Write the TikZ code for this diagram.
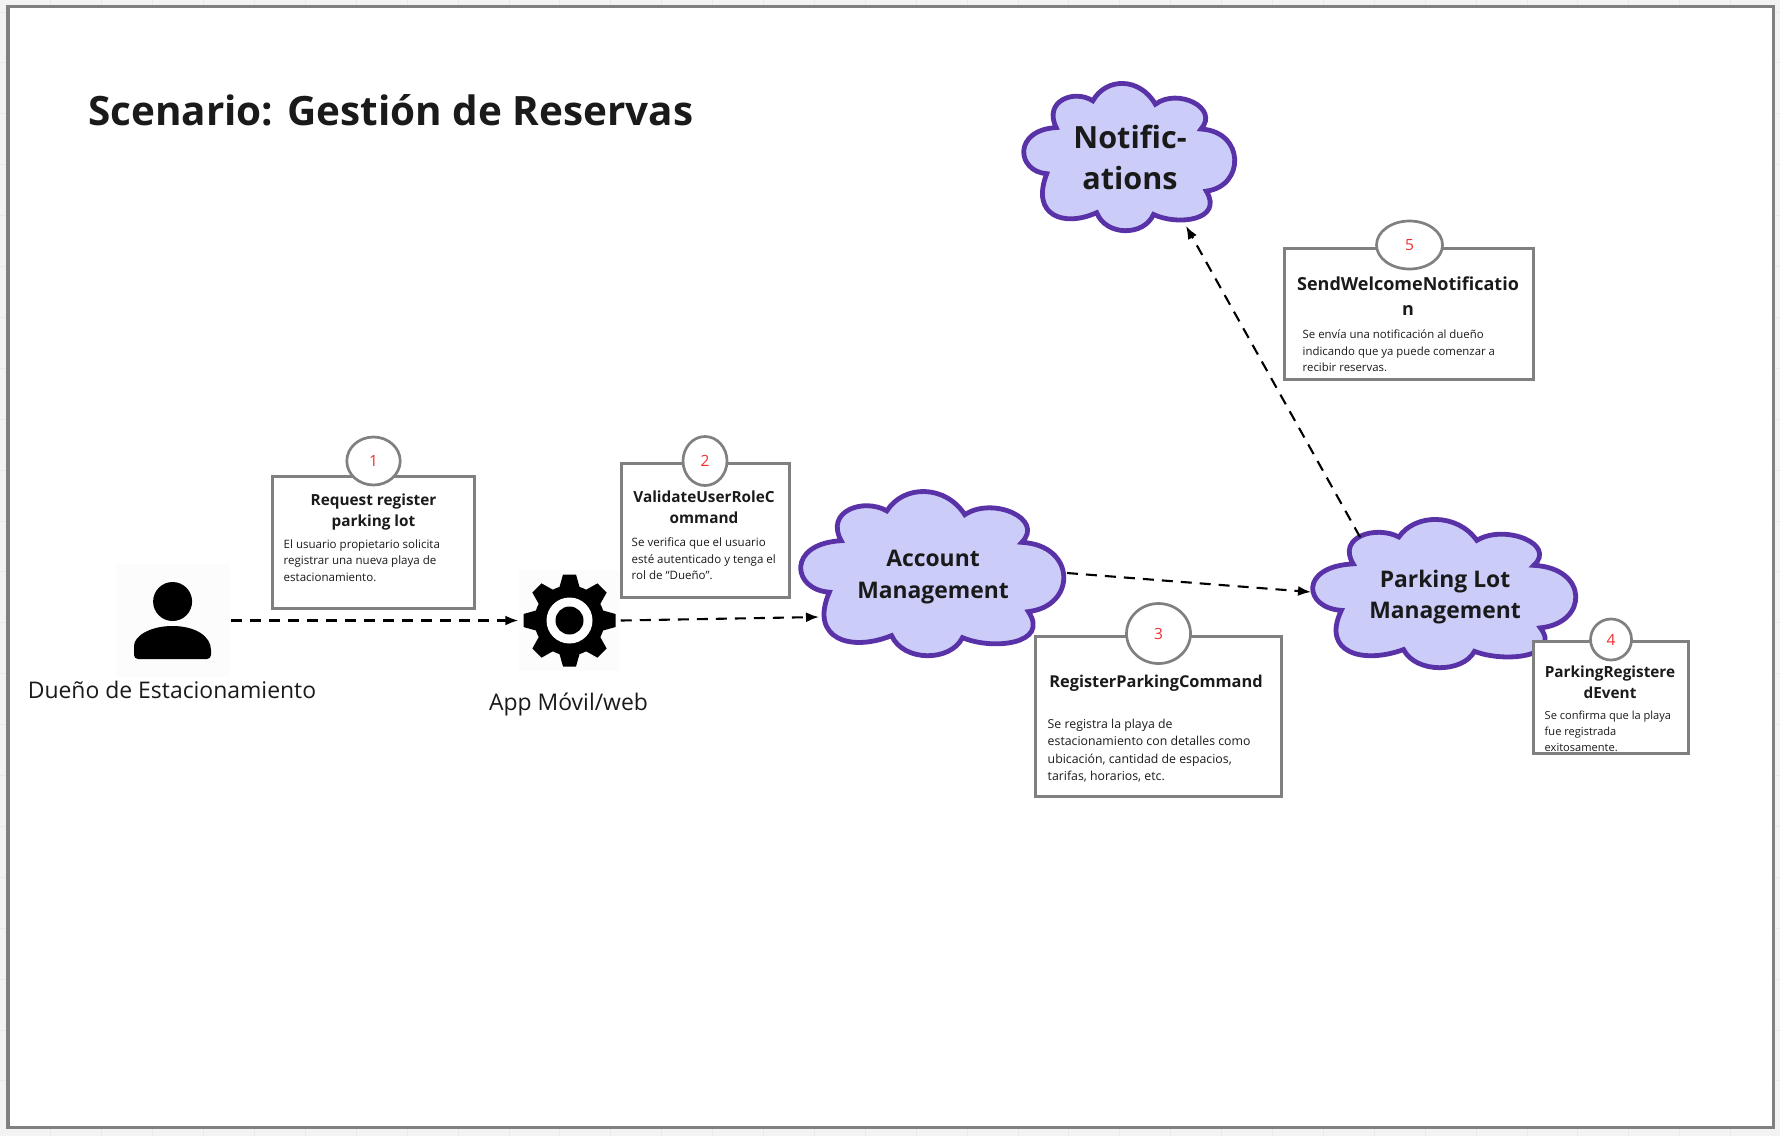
\documentclass[tikz,border=0pt]{standalone}
\usepackage{fontspec}
\setmainfont{Open Sans}
\usetikzlibrary{arrows.meta}

\definecolor{framegray}{HTML}{808080}
\definecolor{sheetgray}{HTML}{F3F3F3}
\definecolor{gridgray}{HTML}{E9E9E9}
\definecolor{cloudfill}{HTML}{CCCCF9}
\definecolor{cloudline}{HTML}{5A32A8}
\definecolor{inkblack}{HTML}{1A1A1A}
\definecolor{stepred}{HTML}{F03030}

\tikzset{
	cardbox/.style = {draw = framegray, fill = white, line width = 0.027cm, inner sep = 0},
	stepring/.style = {draw = framegray, fill = white, line width = 0.027cm},
	stepnum/.style = {inner sep = 0, text = stepred, font = \fontsize{4.4}{5}\selectfont},
	cardhead/.style = {align = center, inner sep = 0, text = inkblack, font = \bfseries\fontsize{4.36}{6.0}\selectfont},
	cardtext/.style = {align = left, anchor = west, inner sep = 0, text = inkblack, font = \fontsize{3.28}{4.7}\selectfont},
	cloudtext/.style = {align = center, inner sep = 0, text = inkblack, font = \bfseries\fontsize{6.5}{9}\selectfont},
	iconback/.style = {fill = black!1, inner sep = 0},
	actorname/.style = {inner sep = 0, text = inkblack, font = \fontsize{6.52}{8}\selectfont},
}

% Cloud outline: left, top, width, height of its box
\newcommand{\cloudbody}[4]{
	\draw [draw = cloudline, fill = cloudfill, line width = 0.048cm, shift = {(#1, #2)}, x = #3 * 0.01cm, y = #4 * -0.01cm]
		(.327, .121) .. controls (.39, -.04) and (.55, -.04) .. (.624, .144)
		.. controls (.73, .03) and (.93, .17) .. (.841, .312)
		.. controls (1.05, .33) and (1.05, .70) .. (.866, .733)
		.. controls (.95, .93) and (.73, .97) .. (.615, .891)
		.. controls (.57, 1.04) and (.39, 1.04) .. (.345, .879)
		.. controls (.19, .98) and (.03, .90) .. (.108, .615)
		.. controls (-.035, .60) and (-.055, .32) .. (.153, .302)
		.. controls (.09, .12) and (.24, .04) .. cycle;
}

\begin{document}
\begin{tikzpicture}[x = 0.01cm, y = -0.01cm]

	\useasboundingbox (0, 0) rectangle (1780, 1136);

	% Sheet behind the frame

	\fill [sheetgray] (0, 0) rectangle (1780, 1136);
	\begin{scope}[gridgray, line width = 0.01cm]
		\foreach \k in {1, ..., 34}
			\draw (\k * 50.9, 0) -- (\k * 50.9, 1136);
		\foreach \k in {0, ..., 21}
			\draw (0, 12 + \k * 50.9) -- (1780, 12 + \k * 50.9);
	\end{scope}

	\draw [draw = framegray, fill = white, line width = 0.03cm] (8, 6) rectangle (1773, 1127);

	\node (title) [anchor = west, inner sep = 0, text = inkblack, font = \bfseries\fontsize{11.5}{14}\selectfont] at (87.5, 110) {Scenario: Gestión de Reservas};

	% Owner and app icons

	\node (owner) [iconback, minimum width = 1.14cm, minimum height = 1.13cm] at (173, 620.5) {};
	\node (app) [iconback, minimum width = 1.01cm, minimum height = 1.01cm] at (569.5, 620.5) {};

	\fill (172.6, 601.5) circle (19.5);
	\fill [rounded corners = 0.04cm] (134, 659) -- (134, 650) [sharp corners] .. controls (134, 636) and (150, 626) .. (172.5, 626)
		.. controls (195, 626) and (211, 636) .. (211, 650) [rounded corners = 0.04cm] -- (211, 659) -- cycle;

	\begin{scope}[shift = {(app.center)}]
		\foreach \a in {0, 45, ..., 315}
			\fill [rotate = \a, line join = round] (30, -11) -- (46, -6.5) -- (46, 6.5) -- (30, 11) -- cycle;
		\fill circle (35);
		\fill [white] circle (23);
		\fill circle (14);
	\end{scope}

	\node (ownername) [actorname] at (172, 690) {Dueño de Estacionamiento};
	\node (appname) [actorname] at (568.5, 704) {App Móvil/web};

	% Clouds

	\cloudbody{1024}{83}{210.5}{147.5}
	\cloudbody{801}{491}{262.5}{164.5}
	\cloudbody{1313}{519}{262.5}{148.5}

	\node (notifications) [cloudtext, font = \bfseries\fontsize{8.7}{11.8}\selectfont] at (1130, 157.5) {Notific-\\ations};
	\node (account) [cloudtext] at (933, 577) {Account\\Management};
	\node (parking) [cloudtext] at (1445, 597) {Parking Lot\\Management};

	\coordinate (notificationsIn) at (1186, 226);
	\coordinate (accountIn) at (819, 617);
	\coordinate (accountOut) at (1067, 573);
	\coordinate (parkingIn) at (1311, 592);
	\coordinate (parkingOut) at (1360, 537);

	% Dashed flow between actors and clouds

	\begin{scope}[> = {Latex[length = 1.3mm, width = 1mm]}, ->, line width = 0.021cm, dash pattern = on 0.11cm off 0.08cm]

		\draw (owner.east) -- (app.west);
		\draw (app.east) -- (accountIn);
		\draw (accountOut) -- (parkingIn);
		\draw (parkingOut) -- (notificationsIn);

	\end{scope}

	% Cards with step numbers

	\node (card1) [cardbox, minimum width = 2.015cm, minimum height = 1.315cm] at (373.5, 542.5) {};
	\draw [stepring] (373.5, 461) ellipse (26.7 and 24);
	\node (num1) [stepnum] at (373.5, 461) {1};
	\node (head1) [cardhead] at (373.5, 512) {Request register\\parking lot};
	\node (text1) [cardtext] at (283, 560.5) {El usuario propietario solicita\\registrar una nueva playa de\\estacionamiento.};

	\node (card2) [cardbox, minimum width = 1.675cm, minimum height = 1.335cm] at (705.5, 530.5) {};
	\draw [stepring] (705, 461) ellipse (22 and 24.5);
	\node (num2) [stepnum] at (705, 461) {2};
	\node (head2) [cardhead] at (704, 507) {ValidateUserRoleC\\ommand};
	\node (text2) [cardtext] at (631, 559) {Se verifica que el usuario\\esté autenticado y tenga el\\rol de “Dueño”.};

	\node (card3) [cardbox, minimum width = 2.455cm, minimum height = 1.595cm] at (1158.5, 716.5) {};
	\draw [stepring] (1158.5, 633.5) ellipse (32 and 30);
	\node (num3) [stepnum] at (1158.5, 633.5) {3};
	\node (head3) [cardhead, font = \bfseries\fontsize{4.65}{6}\selectfont] at (1156, 683.5) {RegisterParkingCommand};
	\node (text3) [cardtext, font = \fontsize{3.5}{5}\selectfont] at (1047, 750.5) {Se registra la playa de\\estacionamiento con detalles como\\ubicación, cantidad de espacios,\\tarifas, horarios, etc.};

	\node (card4) [cardbox, minimum width = 1.55cm, minimum height = 1.115cm] at (1611, 697.5) {};
	\draw [stepring] (1611, 639.5) ellipse (20.5 and 20.5);
	\node (num4) [stepnum] at (1611, 639.5) {4};
	\node (head4) [cardhead] at (1610, 682.5) {ParkingRegistere\\dEvent};
	\node (text4) [cardtext, font = \fontsize{3.15}{4.6}\selectfont] at (1544, 731) {Se confirma que la playa\\fue registrada\\exitosamente.};

	\node (card5) [cardbox, minimum width = 2.485cm, minimum height = 1.305cm] at (1409, 314) {};
	\draw [stepring] (1409.5, 245) ellipse (33 and 24);
	\node (num5) [stepnum] at (1409.5, 245) {5};
	\node (head5) [cardhead, font = \bfseries\fontsize{5.12}{7.3}\selectfont] at (1408, 296) {SendWelcomeNotificatio\\n};
	\node (text5) [cardtext, font = \fontsize{3.24}{4.7}\selectfont] at (1302, 351) {Se envía una notificación al dueño\\indicando que ya puede comenzar a\\recibir reservas.};

\end{tikzpicture}
\end{document}
